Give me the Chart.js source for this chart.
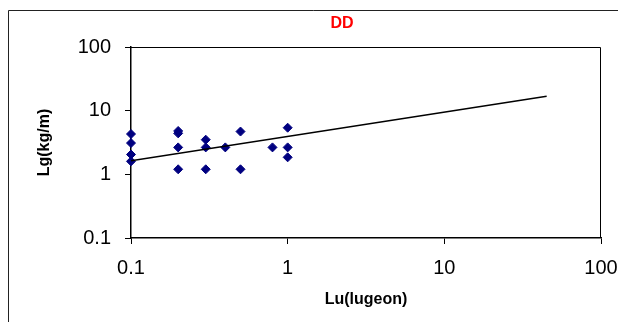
<!DOCTYPE html>
<html>
<head>
<meta charset="utf-8">
<script src="https://cdn.jsdelivr.net/npm/chart.js@4"></script>
<style>
  html, body { margin: 0; padding: 0; background: #fff; }
  #wrap { width: 622px; height: 322px; }
</style>
</head>
<body>
<div id="wrap"><canvas id="ddChart" width="622" height="322"></canvas></div>
<script>
// Lugeon value vs grout take
const lugeon = [0.1, 0.1, 0.1, 0.1, 0.2, 0.2, 0.2, 0.2, 0.3, 0.3, 0.3, 0.4, 0.5, 0.5, 0.8, 1, 1, 1];
const groutTake = [4.3, 3.1, 2.05, 1.6, 4.8, 4.4, 2.65, 1.2, 3.5, 2.65, 1.2, 2.65, 4.7, 1.2, 2.65, 5.4, 2.65, 1.85];

// power trend line end points
const trendX = [0.1, 45];
const trendY = [1.64, 16.9];

const decadeTicks = [0.1, 1, 10, 100];
const chartTitle = "DD";

const FONT = "'Liberation Sans', Arial, sans-serif";

// outer frame, plot box and the red title
const framePlugin = {
  id: "frame",
  afterDraw(chart) {
    const { ctx, chartArea: a } = chart;
    ctx.save();
    ctx.strokeStyle = "#222";
    ctx.lineWidth = 1;
    ctx.beginPath();
    ctx.moveTo(8.5, 322);
    ctx.lineTo(8.5, 10.5);
    ctx.lineTo(618, 10.5);
    ctx.stroke();

    ctx.strokeStyle = "#000";
    ctx.beginPath();
    ctx.moveTo(a.left, a.top + 0.5);
    ctx.lineTo(a.right - 0.5, a.top + 0.5);
    ctx.lineTo(a.right - 0.5, a.bottom);
    ctx.stroke();

    ctx.fillStyle = "#ff0000";
    ctx.font = "bold 16px " + FONT;
    ctx.textAlign = "center";
    ctx.textBaseline = "middle";
    ctx.fillText(chartTitle, 342, 24);
    ctx.restore();
  }
};

const axisCommon = {
  type: "logarithmic",
  min: 0.1,
  max: 100,
  afterBuildTicks: (scale) => {
    scale.ticks = decadeTicks.map(v => ({ value: v }));
  },
  grid: {
    display: true,
    drawOnChartArea: false,
    drawTicks: true,
    tickLength: 6,
    color: "#000",
    lineWidth: 1
  },
  border: { display: true, color: "#000", width: 1.5 },
  ticks: {
    color: "#000",
    font: { family: FONT, size: 20 },
    autoSkip: false,
    maxRotation: 0,
    callback: (value) => String(value)
  }
};

new Chart(document.getElementById("ddChart"), {
  data: {
    datasets: [
      {
        type: "line",
        label: "trend",
        data: trendX.map((x, i) => ({ x: x, y: trendY[i] })),
        borderColor: "#000",
        borderWidth: 1.5,
        pointRadius: 0,
        fill: false
      },
      {
        type: "scatter",
        label: "DD",
        data: lugeon.map((x, i) => ({ x: x, y: groutTake[i] })),
        pointStyle: "rectRot",
        pointRadius: 4.5,
        pointBorderWidth: 1,
        backgroundColor: "#000080",
        borderColor: "#000080",
        clip: false
      }
    ]
  },
  options: {
    responsive: false,
    animation: false,
    layout: { padding: { top: 47, right: 21, left: 0, bottom: 0 } },
    plugins: {
      legend: { display: false },
      tooltip: { enabled: false }
    },
    scales: {
      x: {
        ...axisCommon,
        position: "bottom",
        afterFit: (s) => {
          s.height = 84;
          s.paddingLeft = 0;
          s.paddingRight = 0;
        },
        ticks: { ...axisCommon.ticks, padding: 12 },
        title: {
          display: true,
          text: "Lu(lugeon)",
          color: "#000",
          font: { family: FONT, size: 16, weight: "bold" },
          padding: { top: 0, bottom: 13 }
        }
      },
      y: {
        ...axisCommon,
        position: "left",
        afterFit: (s) => {
          s.width = 131;
          s.paddingTop = 0;
          s.paddingBottom = 0;
        },
        ticks: { ...axisCommon.ticks, padding: 14 },
        title: {
          display: true,
          text: "Lg(kg/m)",
          color: "#000",
          font: { family: FONT, size: 16, weight: "bold" },
          padding: { top: 35, bottom: 0 }
        }
      }
    }
  },
  plugins: [framePlugin]
});
</script>
</body>
</html>
